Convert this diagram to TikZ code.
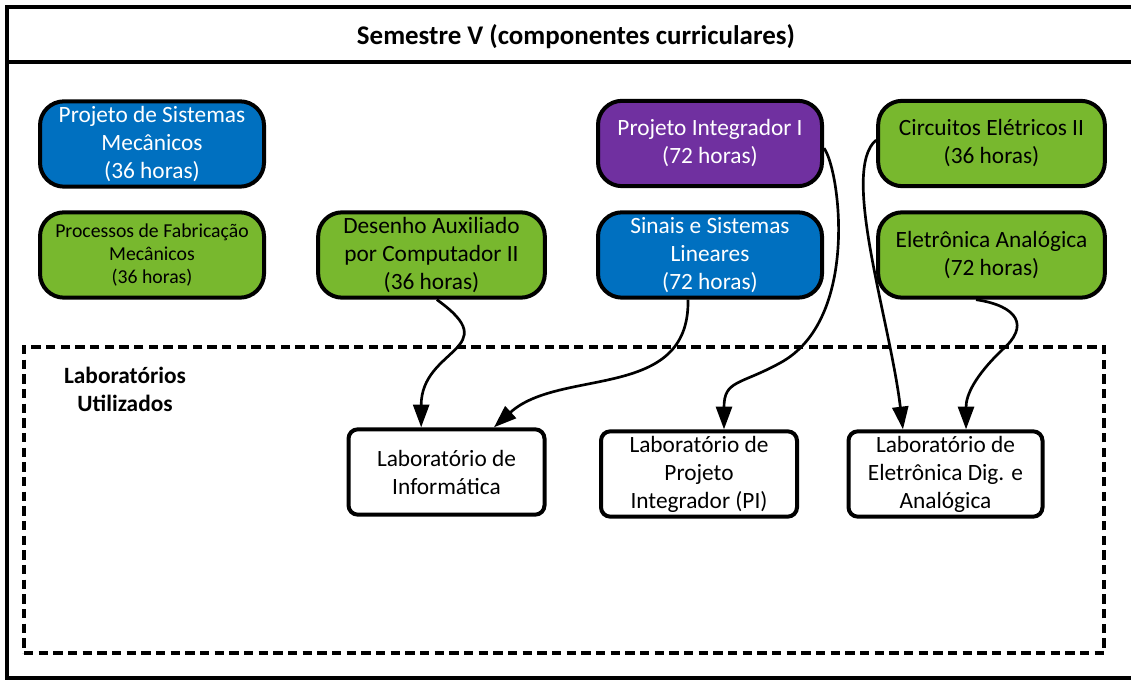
\documentclass[tikz,border=0pt]{standalone}
\usepackage{fontspec}
\setmainfont{Carlito}
\usetikzlibrary{arrows.meta}
\definecolor{courseblue}{RGB}{0,112,192}
\definecolor{coursepurple}{RGB}{112,48,160}
\definecolor{coursegreen}{RGB}{120,184,46}
\begin{document}
\begin{tikzpicture}[x=0.75pt,y=-0.75pt,
  course/.style={draw=black,line width=3pt,rounded corners=18pt,align=center,
    inner sep=0pt,minimum width=168pt,minimum height=64pt,
    font=\fontsize{17.5}{21}\selectfont},
  bluecourse/.style={course,fill=courseblue,text=white},
  purplecourse/.style={course,fill=coursepurple,text=white},
  greencourse/.style={course,fill=coursegreen,text=black},
  labbox/.style={draw=black,line width=3pt,rounded corners=7pt,align=center,
    inner sep=0pt,minimum width=147pt,minimum height=64pt,fill=white,
    font=\fontsize{17.5}{21}\selectfont},
  link/.style={line width=2pt,-{Triangle[length=17pt,width=12pt]}},
  heading/.style={font=\bfseries\fontsize{17.5}{21}\selectfont,align=center}
]
\path[use as bounding box,fill=white] (0,0) rectangle (1131,680);

% outer frame (open on the right) and title band
\draw[line width=2.4pt] (1131,7) -- (7,7) -- (7,678) -- (1131,678);
\draw[line width=2.6pt] (7,62) -- (1131,62);
\node[heading,font=\bfseries\fontsize{20.2}{24}\selectfont] (title) at (576,37)
  {Semestre V (componentes curriculares)};

% laboratory area
\node[draw=black,line width=3pt,dash pattern=on 7pt off 4pt,
      minimum width=810pt,minimum height=229.5pt,inner sep=0pt] (labarea) at (564,500) {};
\node[heading] (labtitle) at (125,389) {Laboratórios\\Utilizados};

% curricular components
\node[bluecourse] (psm) at (152,144) {Projeto de Sistemas\\Mecânicos\\(36 horas)};
\node[greencourse,font=\fontsize{14.8}{17.5}\selectfont] (pfm) at (152,255)
  {Processos de Fabricação\\Mecânicos\\(36 horas)};
\node[greencourse,minimum width=170pt] (desenho) at (431.5,255)
  {Desenho Auxiliado\\por Computador II\\(36 horas)};
\node[purplecourse] (pi) at (710,143.5) {Projeto Integrador I\\(72 horas)};
\node[bluecourse] (sinais) at (710,255) {Sinais e Sistemas\\Lineares\\(72 horas)};
\node[greencourse,minimum width=170pt] (circ) at (991.5,143.5) {Circuitos Elétricos II\\(36 horas)};
\node[greencourse,minimum width=170pt] (eletro) at (991.5,255) {Eletrônica Analógica\\(72 horas)};

% laboratories
\node[labbox] (labinfo) at (446.5,472) {Laboratório de\\Informática};
\node[labbox] (labpi) at (699,474) {Laboratório de\\Projeto\\Integrador (PI)};
\node[labbox,minimum width=145.5pt] (labelet) at (945.5,474)
  {Laboratório de\\Eletrônica Dig. e\\Analógica};

% bends of the longer connectors
\coordinate (pibend) at (780,363);
\coordinate (elebend) at (1002,350);

% connectors
\draw[link] ([xshift=4pt]desenho.south) .. controls +(70,50) and +(0,-80) ..
  ([xshift=-19pt]labinfo.north);
\draw[link] ([xshift=-16.5pt]sinais.south) .. controls +(2,102) and +(66,-60) ..
  ([xshift=35.6pt]labinfo.north);
\draw[link] ([yshift=-3.5pt]pi.east) .. controls (840,170) and (860,320) .. (pibend)
  .. controls (740,385) and (724,380) .. ([xshift=18.75pt]labpi.north);
\draw[link] ([yshift=2.6pt]circ.west) .. controls (840,170) and (890,320) ..
  ([xshift=-31.9pt]labelet.north);
\draw[link] ([xshift=-11.6pt]eletro.south) .. controls (1018,306) and (1030,326) .. (elebend)
  .. controls (975,376) and (966,395) .. ([xshift=15.4pt]labelet.north);
\end{tikzpicture}
\end{document}
